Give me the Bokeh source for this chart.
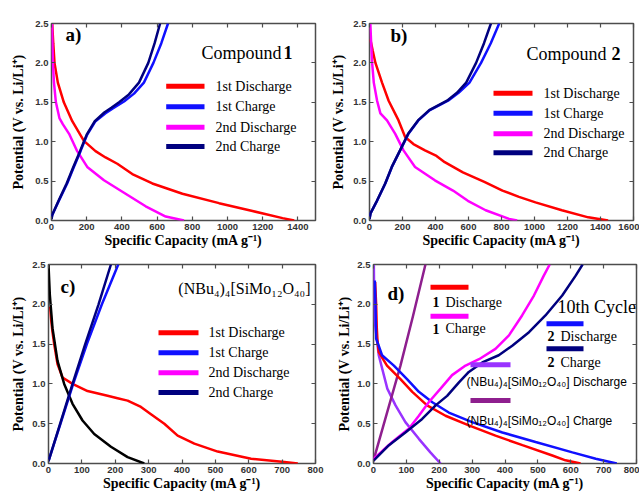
from bokeh.plotting import figure
from bokeh.models import (LinearAxis, FixedTicker, NumeralTickFormatter, Label, Range1d, BoxAnnotation)
from bokeh.layouts import row, column
from bokeh.embed import file_html
from bokeh.resources import INLINE

SERIF = "Liberation Serif"
SANS = "Liberation Sans"
XLAB = "Specific Capacity (mA g\u207b\u00b9)"
YLAB = "Potential (V vs. Li/Li\u207a)"
NBU = "(NBu\u2084)\u2084[SiMo\u2081\u2082O\u2084\u2080]"

# ---------------- data: panel a (Compound 1) ----------------
a_dis1_cap = [4, 10, 17, 36, 70, 118, 184, 250, 307, 374, 459, 573, 744, 952, 1142, 1313, 1379]
a_dis1_v = [2.5, 2.25, 2.0, 1.75, 1.5, 1.26, 1.01, 0.88, 0.80, 0.72, 0.59, 0.47, 0.34, 0.22, 0.12, 0.03, 0.0]
a_dis2_cap = [3, 5, 8, 14, 25, 45, 65, 100, 146, 203, 298, 421, 535, 649, 753]
a_dis2_v = [2.5, 2.25, 2.0, 1.75, 1.5, 1.3, 1.22, 1.1, 0.88, 0.68, 0.51, 0.34, 0.18, 0.05, 0.0]
a_ch1_cap = [0, 4, 42, 89, 127, 165, 203, 250, 307, 346, 412, 469, 525, 579, 624, 662]
a_ch1_v = [0.02, 0.07, 0.25, 0.47, 0.68, 0.88, 1.09, 1.26, 1.36, 1.42, 1.51, 1.61, 1.75, 2.0, 2.25, 2.5]
a_ch2_cap = [0, 4, 40, 86, 124, 162, 200, 246, 300, 340, 384, 440, 497, 550, 586, 617]
a_ch2_v = [0.02, 0.07, 0.25, 0.47, 0.68, 0.88, 1.09, 1.26, 1.37, 1.43, 1.5, 1.6, 1.75, 2.0, 2.25, 2.5]

# ---------------- data: panel b (Compound 2) ----------------
b_dis1_cap = [5, 20, 36, 76, 116, 176, 216, 266, 336, 406, 456, 566, 696, 806, 906, 1006, 1166, 1326, 1446]
b_dis1_v = [2.3, 2.15, 2.0, 1.75, 1.52, 1.27, 1.06, 0.97, 0.89, 0.82, 0.74, 0.61, 0.49, 0.38, 0.30, 0.23, 0.13, 0.04, 0.0]
b_dis2_cap = [5, 10, 16, 26, 46, 66, 106, 156, 206, 276, 396, 506, 596, 704, 846, 895]
b_dis2_v = [2.5, 2.25, 2.0, 1.75, 1.52, 1.36, 1.27, 1.10, 0.89, 0.68, 0.51, 0.38, 0.25, 0.13, 0.02, 0.0]
b_ch1_cap = [0, 6, 46, 96, 136, 186, 236, 296, 366, 476, 540, 606, 676, 735, 786]
b_ch1_v = [0.02, 0.09, 0.25, 0.47, 0.68, 0.89, 1.10, 1.27, 1.40, 1.52, 1.62, 1.75, 2.0, 2.25, 2.5]
b_ch2_cap = [0, 6, 45, 95, 135, 185, 234, 294, 362, 470, 530, 586, 646, 694, 736]
b_ch2_v = [0.02, 0.09, 0.25, 0.47, 0.68, 0.89, 1.10, 1.27, 1.40, 1.52, 1.62, 1.75, 2.0, 2.25, 2.5]

# ---------------- data: panel c ((NBu4)4[SiMo12O40]) ----------------
c_dis1_cap = [5, 8, 12, 17, 27, 42, 72, 117, 177, 207, 237, 277, 307, 347, 387, 437, 507, 607, 707, 747]
c_dis1_v = [1.97, 1.8, 1.65, 1.5, 1.25, 1.08, 1.0, 0.91, 0.85, 0.82, 0.79, 0.71, 0.62, 0.50, 0.35, 0.25, 0.15, 0.06, 0.02, 0.0]
c_dis2_cap = [0, 4, 12, 27, 47, 72, 102, 137, 187, 237, 287]
c_dis2_v = [2.5, 2.12, 1.70, 1.29, 1.0, 0.75, 0.54, 0.37, 0.21, 0.08, 0.0]
c_ch1_cap = [0, 36, 74, 115, 160, 209]
c_ch1_v = [0.03, 0.5, 1.0, 1.5, 2.0, 2.5]
c_ch2_cap = [0, 35, 72, 110, 150, 187]
c_ch2_v = [0.03, 0.5, 1.0, 1.5, 2.0, 2.5]

# ---------------- data: panel d (10th cycle comparison) ----------------
d_dis1_cap = [5, 8, 10, 12, 16, 41, 82, 118, 163, 219, 290, 371, 453, 544, 584, 630]
d_dis1_v = [2.28, 2.0, 1.7, 1.55, 1.40, 1.23, 1.06, 0.90, 0.73, 0.60, 0.48, 0.35, 0.23, 0.10, 0.04, 0.0]
d_ch1_cap = [0, 1, 57, 108, 138, 168, 204, 239, 280, 321, 371, 412, 452, 488, 518, 536]
d_ch1_v = [0.03, 0.06, 0.27, 0.44, 0.60, 0.77, 0.94, 1.11, 1.23, 1.31, 1.44, 1.61, 1.86, 2.11, 2.36, 2.5]
d_dis2_cap = [4, 6, 8, 26, 62, 102, 138, 179, 229, 300, 392, 493, 605, 676, 740]
d_dis2_v = [2.3, 2.0, 1.57, 1.36, 1.23, 1.06, 0.90, 0.77, 0.64, 0.52, 0.39, 0.27, 0.14, 0.06, 0.0]
d_ch2_cap = [0, 1, 47, 97, 148, 189, 224, 260, 290, 331, 381, 422, 473, 523, 574, 615, 636]
d_ch2_v = [0.03, 0.04, 0.23, 0.39, 0.56, 0.73, 0.85, 1.02, 1.15, 1.27, 1.36, 1.48, 1.65, 1.86, 2.11, 2.36, 2.5]
d_refdis_cap = [1, 2, 4, 16, 42, 67, 97, 138, 173, 204]
d_refdis_v = [2.5, 2.1, 1.78, 1.36, 0.94, 0.73, 0.52, 0.31, 0.14, 0.0]
d_refch_cap = [0, 40, 82, 120, 158]
d_refch_v = [0.04, 0.62, 1.23, 1.85, 2.5]

RED, BLUE, MAG, NAVY = "#ff0000", "#1010ff", "#ff00ff", "#00007f"
PURP, DPURP = "#9933ff", "#8e1f8e"
LW = 2.5
FRAME = "#4d4d4d"


def make_panel(w, h, bl, br, bt, bb, xmax, xticks, lab_standoff):
    p = figure(width=w, height=h, output_backend="svg", toolbar_location=None,
               x_range=Range1d(0, xmax), y_range=Range1d(0, 2.5),
               min_border_left=bl, min_border_right=br, min_border_top=bt, min_border_bottom=bb,
               x_axis_label=XLAB, y_axis_label=YLAB)
    p.xgrid.visible = False
    p.ygrid.visible = False
    p.outline_line_color = FRAME
    p.outline_line_width = 1.5
    p.outline_line_alpha = 1.0
    xt = FixedTicker(ticks=xticks)
    yt = FixedTicker(ticks=[0, 0.5, 1.0, 1.5, 2.0, 2.5])
    p.xaxis.ticker = xt
    p.yaxis.ticker = yt
    p.yaxis.formatter = NumeralTickFormatter(format="0.0")
    for ax in (p.xaxis[0], p.yaxis[0]):
        ax.axis_line_color = None
        ax.major_tick_in = 4
        ax.major_tick_out = 0
        ax.minor_tick_in = 0
        ax.minor_tick_out = 0
        ax.major_tick_line_color = FRAME
        ax.major_tick_line_width = 1.2
        ax.major_label_text_font = SANS
        ax.major_label_text_font_style = "bold"
        ax.major_label_text_font_size = "9.5px"
        ax.major_label_text_color = "#333333"
        ax.major_label_standoff = 3
        ax.axis_label_text_font = SERIF
        ax.axis_label_text_font_style = "bold"
        ax.axis_label_text_font_size = "14px"
        ax.axis_label_text_color = "black"
    p.xaxis.axis_label_standoff = 0
    p.yaxis.axis_label_standoff = lab_standoff
    for loc, t in (("above", xt), ("right", yt)):
        ax = LinearAxis(ticker=t, axis_line_color=None, major_tick_in=4, major_tick_out=0,
                        minor_tick_in=0, minor_tick_out=0, major_tick_line_color=FRAME,
                        major_tick_line_width=1.2, major_label_text_font_size="1px",
                        major_label_text_color=None, major_label_standoff=0)
        p.add_layout(ax, loc)
    return p


def geo(fl, ft, fh):
    return dict(fl=fl, ft=ft, fh=fh)


def sx(g, x):
    return x - g["fl"]


def sy(g, y):
    return g["fh"] - (y - g["ft"])


def text(p, g, x, y, s, size, bold=False, font=SERIF, align="left"):
    p.add_layout(Label(x=sx(g, x), y=sy(g, y), x_units="screen", y_units="screen", text=s,
                       text_font=font, text_font_size=f"{size}px",
                       text_font_style="bold" if bold else "normal",
                       text_align=align, text_baseline="middle", text_color="black"))


def swatch(p, g, x0, x1, y, color):
    c = sy(g, y)
    p.add_layout(BoxAnnotation(left=sx(g, x0), right=sx(g, x1), bottom=c - 2.5, top=c + 2.5,
                               left_units="screen", right_units="screen",
                               bottom_units="screen", top_units="screen",
                               fill_color=color, fill_alpha=1.0, line_color=None))


def legend(p, g, entries, x0, x1, xt, ys):
    for (lab, col), y in zip(entries, ys):
        swatch(p, g, x0, x1, y, col)
        text(p, g, xt, y, lab, 14)


STD = [("1st  Discharge", RED), ("1st  Charge", BLUE), ("2nd Discharge", MAG), ("2nd Charge", NAVY)]

# ---------------- panel a ----------------
pa = make_panel(328, 250, 51, 13, 20, 29, 1500, list(range(0, 1401, 200)), 6)
ga = geo(51, 20, 201)
pa.line(a_dis1_cap, a_dis1_v, line_color=RED, line_width=LW)
pa.line(a_dis2_cap, a_dis2_v, line_color=MAG, line_width=LW)
pa.line(a_ch1_cap, a_ch1_v, line_color=BLUE, line_width=LW)
pa.line(a_ch2_cap, a_ch2_v, line_color=NAVY, line_width=LW)
legend(pa, ga, STD, 165.7, 204, 215, [86.7, 107.3, 127.7, 147])
text(pa, ga, 65, 35, "a)", 19, bold=True)
text(pa, ga, 281, 53, "Compound", 18, align="right")
text(pa, ga, 292, 53, "1", 18, bold=True, align="right")

# ---------------- panel b ----------------
pb = make_panel(311, 250, 38, 6, 23, 30, 1600, list(range(0, 1601, 200)), 4)
gb = geo(366, 23, 197)
pb.line(b_dis1_cap, b_dis1_v, line_color=RED, line_width=LW)
pb.line(b_dis2_cap, b_dis2_v, line_color=MAG, line_width=LW)
pb.line(b_ch1_cap, b_ch1_v, line_color=BLUE, line_width=LW)
pb.line(b_ch2_cap, b_ch2_v, line_color=NAVY, line_width=LW)
legend(pb, gb, STD, 490, 529, 540, [92.7, 112.7, 133.3, 152.3])
text(pb, gb, 387, 35, "b)", 19, bold=True)
text(pb, gb, 603, 53, "Compound", 18, align="right")
text(pb, gb, 617, 53, "2", 18, bold=True, align="right")

# ---------------- panel c ----------------
pc = make_panel(328, 243, 48, 13, 14, 28, 800, list(range(0, 801, 100)), 3)
gc = geo(48, 264, 201)
pc.line(c_dis1_cap, c_dis1_v, line_color=RED, line_width=LW)
pc.line(c_dis2_cap, c_dis2_v, line_color="black", line_width=LW)
pc.line(c_ch1_cap, c_ch1_v, line_color=BLUE, line_width=LW)
pc.line(c_ch2_cap, c_ch2_v, line_color=NAVY, line_width=LW)
legend(pc, gc, STD, 158, 198, 208, [334.3, 354.3, 374.3, 394])
text(pc, gc, 60, 288, "c)", 19, bold=True)
text(pc, gc, 310, 290, NBU, 16, align="right")

# ---------------- panel d ----------------
pd_ = make_panel(311, 243, 45, 3, 14, 30, 800, list(range(0, 801, 100)), 2)
gd = geo(373, 264, 199)
pd_.line(d_refdis_cap, d_refdis_v, line_color=PURP, line_width=LW)
pd_.line(d_refch_cap, d_refch_v, line_color=DPURP, line_width=LW)
pd_.line(d_dis1_cap, d_dis1_v, line_color=RED, line_width=LW)
pd_.line(d_dis2_cap, d_dis2_v, line_color=BLUE, line_width=LW)
pd_.line(d_ch1_cap, d_ch1_v, line_color=MAG, line_width=LW)
pd_.line(d_ch2_cap, d_ch2_v, line_color=NAVY, line_width=LW)
text(pd_, gd, 387, 293, "d)", 19, bold=True)
swatch(pd_, gd, 430, 468, 286.7, RED)
text(pd_, gd, 432, 301.7, "1", 14, bold=True)
text(pd_, gd, 445, 301.7, "Discharge", 14)
swatch(pd_, gd, 430, 468, 315.7, MAG)
text(pd_, gd, 432, 328.3, "1", 14, bold=True)
text(pd_, gd, 445, 328.3, "Charge", 14)
text(pd_, gd, 557, 306.7, "10th Cycle", 18)
swatch(pd_, gd, 546, 583, 323.3, BLUE)
text(pd_, gd, 547, 335.7, "2", 14, bold=True)
text(pd_, gd, 560, 335.7, "Discharge", 14)
swatch(pd_, gd, 546, 583, 348.3, NAVY)
text(pd_, gd, 547, 361.7, "2", 14, bold=True)
text(pd_, gd, 560, 361.7, "Charge", 14)
swatch(pd_, gd, 470, 510, 364.3, PURP)
text(pd_, gd, 466, 381.7, NBU + " Discharge", 12, font=SANS)
swatch(pd_, gd, 470, 510, 400, DPURP)
text(pd_, gd, 466, 420, NBU + " Charge", 12, font=SANS)

layout = column(row(pa, pb), row(pc, pd_))
open("out.html", "w").write(file_html(layout, INLINE))
